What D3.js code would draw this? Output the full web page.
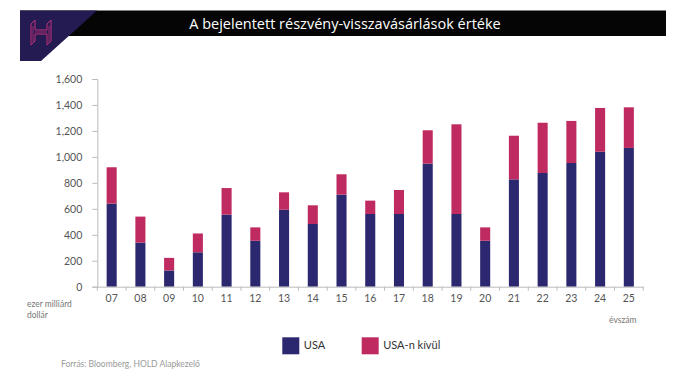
<!DOCTYPE html>
<html>
<head>
<meta charset="utf-8">
<script src="https://cdn.jsdelivr.net/npm/d3@7"></script>
<style>
  body { margin: 0; background: #fff; }
  svg { display: block; }
  .tick text { font-family: Lato, 'Open Sans', sans-serif; fill: #555; }
</style>
</head>
<body>
<div id="chart"></div>
<script>
// évek (x tengely)
const years = ['07', '08', '09', '10', '11', '12', '13', '14', '15', '16', '17', '18', '19', '20', '21', '22', '23', '24', '25'];
// USA visszavásárlások (milliárd dollár)
const usaValues = [640, 340, 125, 265, 555, 354, 593, 483, 709, 560, 560, 948, 560, 354, 827, 876, 953, 1040, 1069];
// USA-n kívül
const nonUsaValues = [280, 200, 97, 145, 205, 103, 134, 144, 157, 103, 185, 257, 691, 103, 336, 387, 324, 337, 313];
const yTicks = [0, 200, 400, 600, 800, 1000, 1200, 1400, 1600];
const seriesNames = ['USA', 'USA-n kívül'];

const width = 690;
const height = 388;
const colorUsa = '#2c2870';
const colorOther = '#bf2a60';

const svg = d3.select('#chart').append('svg')
  .attr('width', width)
  .attr('height', height);

// fejléc
svg.append('rect')
  .attr('x', 20)
  .attr('y', 10.5)
  .attr('width', 646)
  .attr('height', 25.5)
  .attr('fill', '#050505');

svg.append('path')
  .attr('d', 'M20,10.5 L97,10.5 L41,61 L20,61 Z')
  .attr('fill', '#241b52');

// logo (H)
svg.append('path')
  .attr('d', 'M31,24 L35,20 L35,30 L47,30 L47,24 L51,20 L51,41 L47,45 L47,34 L35,34 L35,41 L31,45 Z')
  .attr('fill', 'none')
  .attr('stroke', '#c2317a')
  .attr('stroke-width', 1);
svg.append('path')
  .attr('d', 'M33,26 L33,42 M49,26 L49,42 M35,32 L47,32')
  .attr('fill', 'none')
  .attr('stroke', '#c2317a')
  .attr('stroke-width', 0.8);

svg.append('text')
  .attr('x', 345)
  .attr('y', 28.5)
  .attr('text-anchor', 'middle')
  .attr('fill', '#fff')
  .style('font-family', 'Open Sans, sans-serif')
  .style('font-weight', 500)
  .style('font-size', '14.5px')
  .text('A bejelentett részvény-visszavásárlások értéke');

// skálák
const x = d3.scaleBand()
  .domain(years)
  .range([97.3, 643.2])
  .paddingInner(0.65)
  .paddingOuter(0.325);

const y = d3.scaleLinear()
  .domain([0, 1600])
  .range([286.7, 79]);

const tableData = years.map((d, i) => ({ year: d, usa: usaValues[i], other: nonUsaValues[i] }));
const stacked = d3.stack().keys(['usa', 'other'])(tableData);

svg.append('g')
  .selectAll('g')
  .data(stacked)
  .enter()
  .append('g')
  .attr('fill', (d, i) => (i === 0 ? colorUsa : colorOther))
  .selectAll('rect')
  .data(d => d)
  .enter()
  .append('rect')
  .attr('x', d => x(d.data.year))
  .attr('width', x.bandwidth())
  .attr('y', d => y(d[1]))
  .attr('height', d => y(d[0]) - y(d[1]));

// y tengely
const yAxis = svg.append('g')
  .attr('transform', 'translate(97.3,0)')
  .call(d3.axisLeft(y).tickValues(yTicks).tickFormat(d3.format(',')).tickSize(5).tickPadding(10));
yAxis.select('.domain').attr('stroke', '#bbb');
yAxis.selectAll('.tick line').attr('stroke', '#bbb');
yAxis.selectAll('.tick text').style('font-size', '10.5px');

// x tengely
const xAxis = svg.append('g')
  .attr('transform', 'translate(0,286.7)')
  .call(d3.axisBottom(x).tickSize(0).tickPadding(8));
xAxis.select('.domain').attr('stroke', '#bbb');
xAxis.selectAll('.tick text').style('font-size', '10.5px');

const bounds = years.map(d => x(d) + x.bandwidth() / 2 - x.step() / 2);
bounds.push(x.range()[1]);
xAxis.selectAll('line.sep')
  .data(bounds)
  .enter()
  .append('line')
  .attr('class', 'sep')
  .attr('x1', d => d)
  .attr('x2', d => d)
  .attr('y1', 0)
  .attr('y2', 4)
  .attr('stroke', '#bbb');

// tengelyfeliratok
const small = { 'font-family': 'Lato, Open Sans, sans-serif', 'font-size': '8.5px', fill: '#777' };
function addText(tx, ty, str, st) {
  const t = svg.append('text').attr('x', tx).attr('y', ty).text(str);
  Object.keys(st).forEach(k => t.style(k, st[k]));
  return t;
}
addText(27, 307, 'ezer milliárd', small);
addText(27, 318, 'dollár', small);
addText(609, 322.7, 'évszám', small);
addText(61, 366.7, 'Forrás: Bloomberg, HOLD Alapkezelő', { 'font-family': 'Lato, Open Sans, sans-serif', 'font-size': '8.5px', fill: '#9a9a9a' });

// jelmagyarázat
const legendX = [282.3, 361.7];
const legend = svg.append('g')
  .selectAll('g')
  .data(seriesNames)
  .enter()
  .append('g')
  .attr('transform', (d, i) => `translate(${legendX[i]},337.3)`);
legend.append('rect')
  .attr('width', 17)
  .attr('height', 17)
  .attr('fill', (d, i) => (i === 0 ? colorUsa : colorOther));
legend.append('text')
  .attr('x', 21.5)
  .attr('y', 12)
  .style('font-family', 'Lato, Open Sans, sans-serif')
  .style('font-size', '11px')
  .style('fill', '#333')
  .text(d => d);
</script>
</body>
</html>
